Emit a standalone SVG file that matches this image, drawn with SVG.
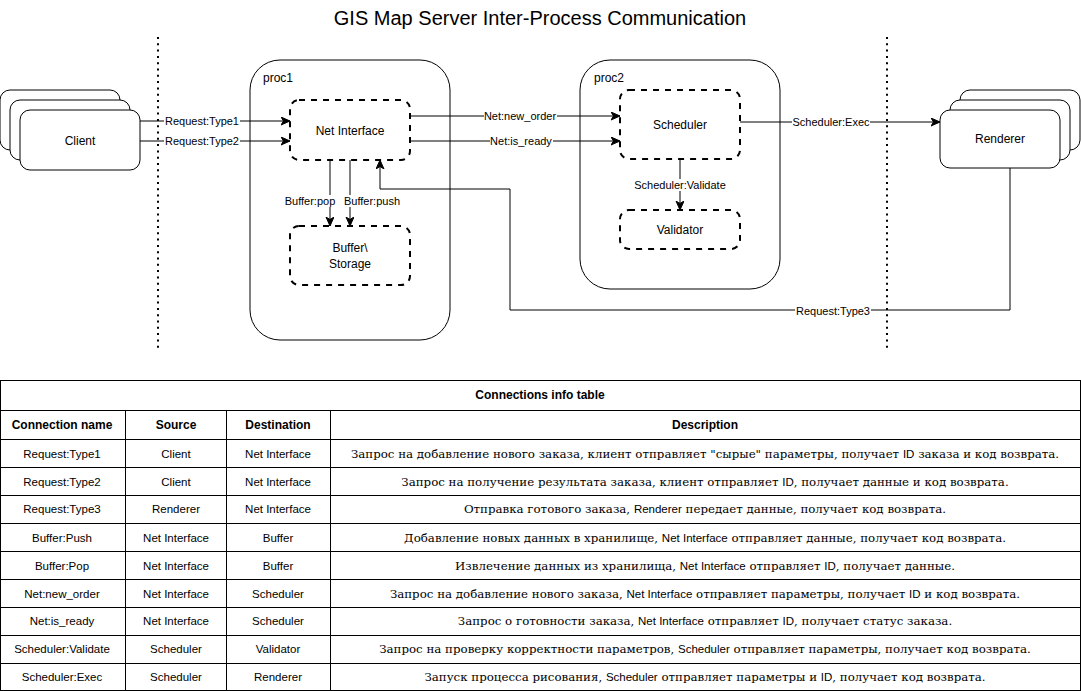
<svg xmlns="http://www.w3.org/2000/svg" width="1081" height="691" viewBox="0 0 1081 691">
<defs>
<style>
text{font-family:"Liberation Sans",Arial,sans-serif;fill:#000;dominant-baseline:central}
.title{font-size:20px;text-anchor:middle}
.nl{font-size:12px;text-anchor:middle}
.pl{font-size:12px;text-anchor:start}
.el{font-size:11px;text-anchor:middle}
.lb{fill:#fff;stroke:none}
.solid{fill:#fff;stroke:#000;stroke-width:1}
.proc{fill:none;stroke:#000;stroke-width:1}
.dash{fill:#fff;stroke:#000;stroke-width:2;stroke-dasharray:6 6}
.dot{stroke:#000;stroke-width:2;stroke-dasharray:2 4.3;fill:none}
.conn{fill:none;stroke:#000;stroke-width:1}
.tb{fill:#fff;stroke:#000;stroke-width:1}
.tl{stroke:#000;stroke-width:1}
.th{font-size:12px;font-weight:bold;text-anchor:middle}
.td{font-size:11.5px;text-anchor:middle}
.cy{font-family:"DejaVu Serif",serif;font-size:11.8px}
</style>
<marker id="arr" markerWidth="10" markerHeight="10" refX="9" refY="4" orient="auto" markerUnits="userSpaceOnUse">
<path d="M0,0 L9,4 L0,8 L2.5,4 Z" fill="#000" stroke="#000" stroke-width="1"/>
</marker>
</defs>
<rect width="1081" height="691" fill="#fff"/>
<text class="title" x="540" y="18">GIS Map Server Inter-Process Communication</text>

<g id="separators">
<line class="dot" x1="158" y1="37" x2="158" y2="352"/>
<line class="dot" x1="887" y1="37" x2="887" y2="352"/>
</g>

<g id="proc1">
<rect class="proc" x="250" y="60" width="200" height="280" rx="30"/>
<text class="pl" x="263" y="78">proc1</text>
</g>
<g id="proc2">
<rect class="proc" x="580" y="60" width="200" height="229" rx="30"/>
<text class="pl" x="594" y="78">proc2</text>
</g>

<g id="client">
<rect class="solid" x="0" y="90" width="120" height="60" rx="10"/>
<rect class="solid" x="10" y="100" width="120" height="60" rx="10"/>
<rect class="solid" x="20" y="110" width="120" height="60" rx="10"/>
<text class="nl" x="80" y="141">Client</text>
</g>

<g id="renderer">
<rect class="solid" x="960" y="90" width="120" height="60" rx="10"/>
<rect class="solid" x="950" y="100" width="120" height="60" rx="10"/>
<rect class="solid" x="940" y="110" width="120" height="58" rx="10"/>
<text class="nl" x="1000" y="139">Renderer</text>
</g>

<g id="net-interface">
<rect class="dash" x="290" y="100" width="120" height="60" rx="9"/>
<text class="nl" x="350" y="131">Net Interface</text>
</g>

<g id="buffer-storage">
<rect class="dash" x="290" y="226" width="120" height="59" rx="9"/>
<text class="nl" x="350" y="248">Buffer\</text>
<text class="nl" x="350" y="264">Storage</text>
</g>

<g id="scheduler">
<rect class="dash" x="620" y="90" width="120" height="69" rx="9"/>
<text class="nl" x="680" y="125">Scheduler</text>
</g>

<g id="validator">
<rect class="dash" x="620" y="210" width="120" height="39" rx="9"/>
<text class="nl" x="680" y="230">Validator</text>
</g>

<g id="connectors">
<line class="conn" x1="140" y1="121" x2="290" y2="121" marker-end="url(#arr)"/>
<line class="conn" x1="140" y1="141" x2="290" y2="141" marker-end="url(#arr)"/>
<line class="conn" x1="410" y1="116" x2="620" y2="116" marker-end="url(#arr)"/>
<line class="conn" x1="410" y1="141" x2="620" y2="141" marker-end="url(#arr)"/>
<line class="conn" x1="740" y1="122" x2="940" y2="122" marker-end="url(#arr)"/>
<line class="conn" x1="330" y1="160" x2="330" y2="226" marker-end="url(#arr)"/>
<line class="conn" x1="350" y1="160" x2="350" y2="226" marker-end="url(#arr)"/>
<line class="conn" x1="680" y1="159" x2="680" y2="210" marker-end="url(#arr)"/>
<path class="conn" d="M1010,168 L1010,310 L510,310 L510,189 L380,189 L380,160" marker-end="url(#arr)"/>
<rect class="lb" x="164" y="115" width="76" height="12"/>
<text class="el" x="202" y="121">Request:Type1</text>
<rect class="lb" x="164" y="135" width="76" height="12"/>
<text class="el" x="202" y="141">Request:Type2</text>
<rect class="lb" x="484" y="110" width="73" height="12"/>
<text class="el" x="520" y="116">Net:new_order</text>
<rect class="lb" x="490" y="135" width="63" height="12"/>
<text class="el" x="521" y="141">Net:is_ready</text>
<rect class="lb" x="792" y="116" width="78" height="12"/>
<text class="el" x="831" y="122">Scheduler:Exec</text>
<rect class="lb" x="636" y="179" width="88" height="12"/>
<text class="el" x="680" y="185">Scheduler:Validate</text>
<rect class="lb" x="284" y="195" width="52" height="12"/>
<text class="el" x="310" y="201">Buffer:pop</text>
<rect class="lb" x="344" y="195" width="57" height="12"/>
<text class="el" x="372" y="201">Buffer:push</text>
<rect class="lb" x="795" y="305" width="76" height="12"/>
<text class="el" x="833" y="311">Request:Type3</text>
</g>

<g id="table">
<rect class="tb" x="0.5" y="380.5" width="1080" height="310"/>
<line class="tl" x1="0" y1="410.5" x2="1081" y2="410.5"/>
<line class="tl" x1="0" y1="439.5" x2="1081" y2="439.5"/>
<line class="tl" x1="0" y1="467.5" x2="1081" y2="467.5"/>
<line class="tl" x1="0" y1="495.5" x2="1081" y2="495.5"/>
<line class="tl" x1="0" y1="523.5" x2="1081" y2="523.5"/>
<line class="tl" x1="0" y1="551.5" x2="1081" y2="551.5"/>
<line class="tl" x1="0" y1="579.5" x2="1081" y2="579.5"/>
<line class="tl" x1="0" y1="607.5" x2="1081" y2="607.5"/>
<line class="tl" x1="0" y1="635.5" x2="1081" y2="635.5"/>
<line class="tl" x1="0" y1="663.5" x2="1081" y2="663.5"/>
<line class="tl" x1="125.5" y1="410" x2="125.5" y2="691"/>
<line class="tl" x1="226.5" y1="410" x2="226.5" y2="691"/>
<line class="tl" x1="330.5" y1="410" x2="330.5" y2="691"/>
<text class="th" x="540" y="395">Connections info table</text>
<text class="th" x="62" y="425">Connection name</text>
<text class="th" x="176" y="425">Source</text>
<text class="th" x="278" y="425">Destination</text>
<text class="th" x="705" y="425">Description</text>

<text class="td" x="62" y="454">Request:Type1</text>
<text class="td" x="176" y="454">Client</text>
<text class="td" x="278" y="454">Net Interface</text>
<text class="td" x="705" y="454"><tspan class="cy">Запрос на добавление нового заказа, клиент отправляет "сырые" параметры, получает </tspan>ID<tspan class="cy"> заказа и код возврата.</tspan></text>

<text class="td" x="62" y="482">Request:Type2</text>
<text class="td" x="176" y="482">Client</text>
<text class="td" x="278" y="482">Net Interface</text>
<text class="td" x="705" y="482"><tspan class="cy">Запрос на получение результата заказа, клиент отправляет </tspan>ID<tspan class="cy">, получает данные и код возврата.</tspan></text>

<text class="td" x="62" y="509">Request:Type3</text>
<text class="td" x="176" y="509">Renderer</text>
<text class="td" x="278" y="509">Net Interface</text>
<text class="td" x="705" y="509"><tspan class="cy">Отправка готового заказа, </tspan>Renderer<tspan class="cy"> передает данные, получает код возврата.</tspan></text>

<text class="td" x="62" y="538">Buffer:Push</text>
<text class="td" x="176" y="538">Net Interface</text>
<text class="td" x="278" y="538">Buffer</text>
<text class="td" x="705" y="538"><tspan class="cy">Добавление новых данных в хранилище, </tspan>Net Interface<tspan class="cy"> отправляет данные, получает код возврата.</tspan></text>

<text class="td" x="62" y="566">Buffer:Pop</text>
<text class="td" x="176" y="566">Net Interface</text>
<text class="td" x="278" y="566">Buffer</text>
<text class="td" x="705" y="566"><tspan class="cy">Извлечение данных из хранилища, </tspan>Net Interface<tspan class="cy"> отправляет </tspan>ID<tspan class="cy">, получает данные.</tspan></text>

<text class="td" x="62" y="594">Net:new_order</text>
<text class="td" x="176" y="594">Net Interface</text>
<text class="td" x="278" y="594">Scheduler</text>
<text class="td" x="705" y="594"><tspan class="cy">Запрос на добавление нового заказа, </tspan>Net Interface<tspan class="cy"> отправляет параметры, получает </tspan>ID<tspan class="cy"> и код возврата.</tspan></text>

<text class="td" x="62" y="621">Net:is_ready</text>
<text class="td" x="176" y="621">Net Interface</text>
<text class="td" x="278" y="621">Scheduler</text>
<text class="td" x="705" y="621"><tspan class="cy">Запрос о готовности заказа, </tspan>Net Interface<tspan class="cy"> отправляет </tspan>ID<tspan class="cy">, получает статус заказа.</tspan></text>

<text class="td" x="62" y="649">Scheduler:Validate</text>
<text class="td" x="176" y="649">Scheduler</text>
<text class="td" x="278" y="649">Validator</text>
<text class="td" x="705" y="649"><tspan class="cy">Запрос на проверку корректности параметров, </tspan>Scheduler<tspan class="cy"> отправляет параметры, получает код возврата.</tspan></text>

<text class="td" x="62" y="677">Scheduler:Exec</text>
<text class="td" x="176" y="677">Scheduler</text>
<text class="td" x="278" y="677">Renderer</text>
<text class="td" x="705" y="677"><tspan class="cy">Запуск процесса рисования, </tspan>Scheduler<tspan class="cy"> отправляет параметры и </tspan>ID<tspan class="cy">, получает код возврата.</tspan></text>
</g>
</svg>
